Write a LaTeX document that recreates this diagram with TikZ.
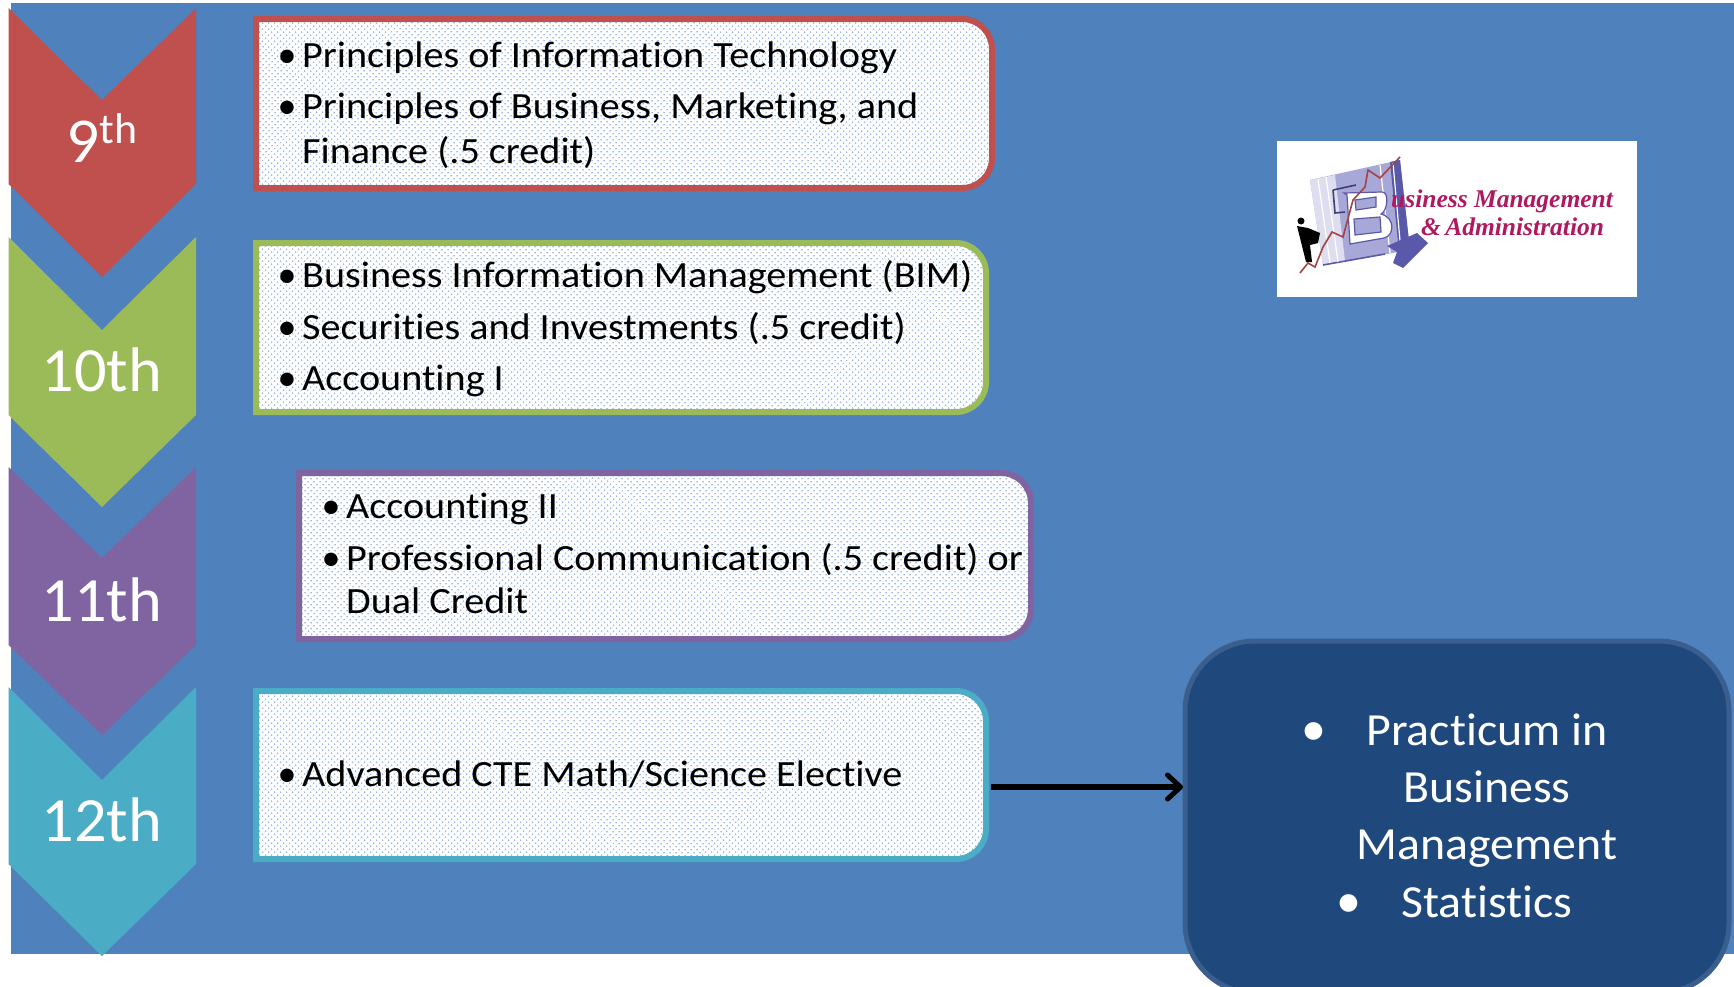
\documentclass[tikz,border=0pt]{standalone}
\usepackage{fontspec}
\setmainfont{Carlito}[RawFeature=-liga]
\newfontfamily\bodyfont{Carlito}[FakeStretch=1.085,RawFeature=-liga]
\newfontfamily\pracfont{Carlito}[FakeStretch=1.04,RawFeature=-liga]
\newfontfamily\yearfont{Carlito}[FakeStretch=1.02,RawFeature=-liga]
\newfontfamily\logofont{Liberation Serif}
\usetikzlibrary{arrows.meta,patterns.meta}
\definecolor{bgblue}{HTML}{4F81BD}
\definecolor{darkblue}{HTML}{1F497D}
\definecolor{darkedge}{HTML}{3A5F8E}
\definecolor{cred}{HTML}{C0504D}
\definecolor{cgreen}{HTML}{9BBB59}
\definecolor{cpurple}{HTML}{8064A2}
\definecolor{ccyan}{HTML}{4BACC6}
\definecolor{dotblue}{HTML}{9DBAE0}
\definecolor{logopink}{HTML}{B0185F}
\definecolor{lilaclight}{HTML}{DEDEF0}
\definecolor{lilacmid}{HTML}{A8A8D8}
\definecolor{lilacdark}{HTML}{5A58A8}
\tikzset{
  x=1pt,y=-1pt,
  itemline/.style={anchor=base west,inner sep=0pt,font=\bodyfont\fontsize{37}{37}\selectfont,text=black},
  itembullet/.style={anchor=base,inner sep=0pt,font=\fontsize{38}{38}\selectfont,text=black},
  yearlabel/.style={anchor=base,inner sep=0pt,text=white,font=\yearfont\fontsize{63}{63}\selectfont},
  practline/.style={anchor=base,inner sep=0pt,text=white,font=\pracfont\fontsize{46}{46}\selectfont},
  pracbullet/.style={anchor=base,inner sep=0pt,text=white,font=\fontsize{50}{50}\selectfont},
  logotext/.style={anchor=base west,inner sep=0pt,text=logopink,font=\logofont\bfseries\itshape\fontsize{25.5}{25.5}\selectfont},
}
% chevron: top y, notch y, shoulder y, tip y, colour
\newcommand{\chevronshape}[5]{\fill[#5] (8.5,#1) -- (102,#2) -- (196,#1) -- (196,#3) -- (102,#4) -- (8.5,#3) -- cycle;}
% box: name, x1,y1,x2,y2, colour
\newcommand{\coursebox}[6]{%
  \node[inner sep=0pt,outer sep=0pt,minimum width=#4pt-#2pt,minimum height=#5pt-#3pt] (#1) at ({(#2+#4)/2},{(#3+#5)/2}) {};
  \fill[white] (#1.south west) -- (#1.north west) [rounded corners=30pt] -- (#1.north east) -- (#1.south east) [sharp corners] -- cycle;
  \fill[pattern={Dots[distance=4pt,radius=0.95pt,angle=45]},pattern color=dotblue] (#1.south west) -- (#1.north west) [rounded corners=30pt] -- (#1.north east) -- (#1.south east) [sharp corners] -- cycle;
  \draw[#6,line width=6pt,line join=miter] (#1.south west) -- (#1.north west) [rounded corners=30pt] -- (#1.north east) -- (#1.south east) [sharp corners] -- cycle;}
\begin{document}
\begin{tikzpicture}
\useasboundingbox (0,0) rectangle (1734,986);
\fill[white] (0,0) rectangle (1734,986);
\fill[bgblue] (11,3) rectangle (1734,954);
% chevrons
\chevronshape{8}{100}{184}{277}{cred}
\chevronshape{237}{330}{415}{507}{cgreen}
\chevronshape{467}{558}{645}{735}{cpurple}
\chevronshape{687}{780}{864}{956}{ccyan}
\node[anchor=base,inner sep=0pt,text=white,font=\yearfont\fontsize{64}{64}\selectfont] (y9) at (102,162) {9\raisebox{19pt}{\fontsize{43}{43}\selectfont th}};
\node[yearlabel] (y10) at (102,391) {10th};
\node[yearlabel] (y11) at (102,621) {11th};
\node[yearlabel] (y12) at (102,841) {12th};
% course boxes
\coursebox{redbox}{256}{19}{992}{188}{cred}
\coursebox{greenbox}{256}{243}{986}{412}{cgreen}
\coursebox{purplebox}{299}{473}{1031}{639}{cpurple}
\coursebox{cyanbox}{256}{691}{986}{859}{ccyan}
% red items
\node[itembullet] (b1) at (287,67) {•};
\node[itemline] (t1) at (302,67) {Principles of Information Technology};
\node[itembullet] (b2) at (287,118) {•};
\node[itemline] (t2) at (302,118) {Principles of Business, Marketing, and};
\node[itemline] (t3) at (302,163) {Finance (.5 credit)};
% green items
\node[itembullet] (b3) at (287,287) {•};
\node[itemline] (t4) at (302,287) {Business Information Management (BIM)};
\node[itembullet] (b4) at (287,339) {•};
\node[itemline] (t5) at (302,339) {Securities and Investments (.5 credit)};
\node[itembullet] (b5) at (287,390) {•};
\node[itemline] (t6) at (302,390) {Accounting I};
% purple items
\node[itembullet] (b6) at (331,518) {•};
\node[itemline] (t7) at (346,518) {Accounting II};
\node[itembullet] (b7) at (331,570) {•};
\node[itemline] (t8) at (346,570) {Professional Communication (.5 credit) or};
\node[itemline] (t9) at (346,613) {Dual Credit};
% cyan item
\node[itembullet] (b8) at (287,786) {•};
\node[itemline] (t10) at (302,786) {Advanced CTE Math/Science Elective};
% practicum
\node[inner sep=0pt,outer sep=0pt,minimum width=544pt,minimum height=352pt] (dark) at (1457,817) {};
\draw[darkedge,line width=5pt,fill=darkblue,rounded corners=70pt] (dark.south west) rectangle (dark.north east);
\node[pracbullet] (pb1) at (1314,745) {•};
\node[practline] (p1) at (1487,745) {Practicum in};
\node[practline] (p2) at (1487,802) {Business};
\node[practline] (p3) at (1487,859) {Management};
\node[pracbullet] (pb2) at (1349,917) {•};
\node[practline] (p4) at (1487,917) {Statistics};
% arrow
\coordinate (arrowstart) at (991,787);
\draw[black,line width=5.5pt,shorten >=2pt,-{Straight Barb[length=13pt,width=24pt,line width=5pt,round]}] (arrowstart) -- (arrowstart -| dark.west);
% logo
\node[fill=white,inner sep=0pt,outer sep=0pt,minimum width=360pt,minimum height=156pt] (logo) at (1457,219) {};
\fill[lilacmid] (1310,180) -- (1400,160) -- (1410,250) -- (1323,265) -- cycle;
\fill[lilaclight] (1310,180) -- (1335,175) -- (1345,261) -- (1323,265) -- cycle;
\fill[lilacdark] (1390,162) -- (1400,160) -- (1410,250) -- (1399,252) -- cycle;
\draw[lilacdark,line width=1.6pt] (1323,265) -- (1385,254);
\draw[white,line width=1.2pt] (1318,179) -- (1330,263) (1326,177) -- (1338,262) (1380,165) -- (1390,253) (1393,163) -- (1401,252);
\fill[lilacdark] (1387,246) -- (1417,233) -- (1428,243) -- (1403,268) -- (1393,263) -- (1397,252) -- cycle;
\draw[lilacdark!70!black,line width=1.6pt] (1333,190) -- (1335,213) -- (1345,212) (1333,190) -- (1356,185);
\fill[white,draw=lilacdark,line width=1.2pt,even odd rule]
  (1344,193) -- (1382,192) .. controls (1390,192) and (1387,212) .. (1381,214)
  .. controls (1396,218) and (1394,236) .. (1384,238) -- (1350,244) -- (1347,195) -- cycle
  (1355,200) -- (1376,197) -- (1376,207) -- (1356,210) -- cycle
  (1354,219) -- (1380,217) -- (1381,232) -- (1355,235) -- cycle;
\draw[cred!85!black,line width=1.6pt] (1300,273) -- (1308,263) -- (1315,267) -- (1323,247) -- (1332,232) -- (1343,237) -- (1353,200) -- (1365,187) -- (1368,170) -- (1380,178) -- (1400,157);
\fill[black] (1301,221) circle (3.5pt);
\fill[black] (1297,226) -- (1308,228) -- (1320,233) -- (1318,243) -- (1310,245) -- (1312,262) -- (1306,262) -- (1302,246) -- cycle;
\node[logotext] (logo1) at (1391,207) {usiness Management};
\node[logotext] (logo2) at (1421,235) {\&\,Administration};
\end{tikzpicture}
\end{document}
